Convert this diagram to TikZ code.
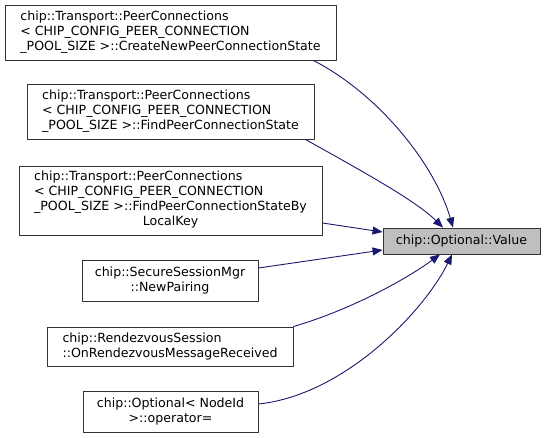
\documentclass[tikz,border=0pt]{standalone}
\usepackage{fontspec}
\setmainfont{DejaVu Sans}
\usetikzlibrary{arrows.meta}
\definecolor{edgeblue}{HTML}{191970}
\definecolor{curgray}{HTML}{BFBFBF}
\tikzset{
  fnbox/.style={draw=black!80, line width=0.9pt, fill=white, inner sep=0pt, align=left},
  callarrow/.style={draw=edgeblue, line width=0.9pt, -{Triangle[length=10pt,width=8pt]}}
}
\begin{document}
\begin{tikzpicture}[x=1pt, y=-1pt, line cap=round, line join=round, font=\fontsize{12.6}{15}\selectfont]
	\useasboundingbox (0,0) rectangle (545,438);
	% 1. Hàm được gọi
	\node[fnbox, fill=curgray, align=center, minimum width=157pt, minimum height=26pt] (value) at (461.5,241) {chip::Optional::Value};
	
	% 2. Các hàm gọi
	\node[fnbox, minimum width=331pt, minimum height=55pt] (create) at (170.5,32.5)
		{chip::Transport::PeerConnections\\ < CHIP\_CONFIG\_PEER\_CONNECTION\\ \_POOL\_SIZE >::CreateNewPeerConnectionState};
	\node[fnbox, minimum width=287pt, minimum height=55pt] (findstate) at (170.5,111.5)
		{chip::Transport::PeerConnections\\ < CHIP\_CONFIG\_PEER\_CONNECTION\\ \_POOL\_SIZE >::FindPeerConnectionState};
	\node[fnbox, minimum width=303pt, minimum height=69pt] (findkey) at (170.5,200.5)
		{\begin{tabular}{@{}l@{}}chip::Transport::PeerConnections\\ < CHIP\_CONFIG\_PEER\_CONNECTION\\ \_POOL\_SIZE >::FindPeerConnectionStateBy\\ \multicolumn{1}{@{}c@{}}{LocalKey}\end{tabular}};
	\node[fnbox, align=center, minimum width=176pt, minimum height=41pt] (newpair) at (170,280.5)
		{chip::SecureSessionMgr\\ ::NewPairing};
	\node[fnbox, minimum width=246pt, minimum height=39pt] (rendez) at (170,346.5)
		{chip::RendezvousSession\\ ::OnRendezvousMessageReceived};
	\node[fnbox, align=center, minimum width=175pt, minimum height=41pt] (optop) at (170.5,411.5)
		{chip::Optional< NodeId\\ >::operator=};
	
	% 3. Các cung gọi hàm
	\draw[callarrow] ([xshift=-23pt]create.south east) .. controls (380,95) and (435,165) .. ([xshift=-8.5pt]value.north);
	\draw[callarrow] ([xshift=-9pt]findstate.south east) .. controls (360,170) and (415,200) .. ([xshift=-18.5pt]value.north);
	\draw[callarrow] ([yshift=-22.5pt]findkey.east) -- ([yshift=9pt]value.west);
	\draw[callarrow] ([yshift=12.5pt]newpair.east) -- ([yshift=-9pt]value.west);
	\draw[callarrow] (rendez.north east) .. controls (350,310) and (405,280) .. ([xshift=-21.5pt]value.south);
	\draw[callarrow] ([yshift=7.5pt]optop.east) .. controls (345,395) and (425,310) .. ([xshift=-9.5pt]value.south);
\end{tikzpicture}
\end{document}
